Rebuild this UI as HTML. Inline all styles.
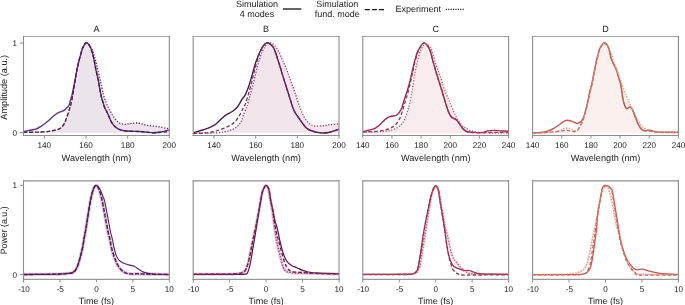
<!DOCTYPE html>
<html><head><meta charset="utf-8"><style>
html,body{margin:0;padding:0;background:#fff;}
body{width:685px;height:305px;overflow:hidden;}
svg{display:block;font-family:"Liberation Sans", sans-serif;will-change:transform;}
svg text{fill:#1a1a1a;text-rendering:geometricPrecision;}
</style></head><body>
<svg width="685" height="305" viewBox="0 0 685 305">
<clipPath id="cAt"><rect x="23.5" y="36.5" width="145.9" height="98.9"/></clipPath>
<clipPath id="cBt"><rect x="193.2" y="36.5" width="145.8" height="98.9"/></clipPath>
<clipPath id="cCt"><rect x="362.8" y="36.5" width="145.59999999999997" height="98.9"/></clipPath>
<clipPath id="cDt"><rect x="532.6" y="36.5" width="145.79999999999995" height="98.9"/></clipPath>
<clipPath id="cAb"><rect x="23.5" y="180.6" width="145.9" height="98.70000000000002"/></clipPath>
<clipPath id="cBb"><rect x="193.2" y="180.6" width="145.8" height="98.70000000000002"/></clipPath>
<clipPath id="cCb"><rect x="362.8" y="180.6" width="145.59999999999997" height="98.70000000000002"/></clipPath>
<clipPath id="cDb"><rect x="532.6" y="180.6" width="145.79999999999995" height="98.70000000000002"/></clipPath>
<g clip-path="url(#cAt)" fill="none" stroke-linejoin="round">
<path d="M23.50,132.20C25.42,132.20 31.42,132.27 35.00,132.20C38.58,132.13 42.50,131.98 45.00,131.80C47.50,131.62 48.18,131.38 50.00,131.10C51.82,130.82 54.27,130.52 55.90,130.10C57.53,129.68 58.65,129.33 59.80,128.60C60.95,127.87 61.97,126.68 62.80,125.70C63.63,124.72 64.23,123.85 64.80,122.70C65.37,121.55 65.72,120.12 66.20,118.80C66.68,117.48 67.20,116.28 67.70,114.80C68.20,113.32 68.70,111.53 69.20,109.90C69.70,108.27 70.20,106.98 70.70,105.00C71.20,103.02 71.67,100.83 72.20,98.00C72.73,95.17 73.30,91.58 73.90,88.00C74.50,84.42 75.22,79.92 75.80,76.50C76.38,73.08 76.73,70.63 77.40,67.50C78.07,64.37 78.90,60.98 79.80,57.70C80.70,54.42 81.68,50.30 82.80,47.80C83.92,45.30 85.20,42.92 86.50,42.70C87.80,42.48 89.43,44.78 90.60,46.50C91.77,48.22 92.62,50.50 93.50,53.00C94.38,55.50 95.18,58.70 95.90,61.50C96.62,64.30 97.12,66.88 97.80,69.80C98.48,72.72 99.30,75.97 100.00,79.00C100.70,82.03 101.42,85.33 102.00,88.00C102.58,90.67 102.87,92.72 103.50,95.00C104.13,97.28 105.02,99.62 105.80,101.70C106.58,103.78 107.45,105.92 108.20,107.50C108.95,109.08 109.53,109.83 110.30,111.20C111.07,112.57 111.98,114.40 112.80,115.70C113.62,117.00 114.38,118.03 115.20,119.00C116.02,119.97 116.80,120.73 117.70,121.50C118.60,122.27 119.43,123.12 120.60,123.60C121.77,124.08 123.47,124.33 124.70,124.40C125.93,124.47 126.80,124.17 128.00,124.00C129.20,123.83 130.45,123.57 131.90,123.40C133.35,123.23 135.10,122.93 136.70,123.00C138.30,123.07 139.77,123.42 141.50,123.80C143.23,124.18 145.08,124.92 147.10,125.30C149.12,125.68 151.45,125.82 153.60,126.10C155.75,126.38 157.87,126.63 160.00,127.00C162.13,127.37 164.83,128.02 166.40,128.30C167.97,128.58 168.90,128.63 169.40,128.70L169.40,132.8L23.50,132.8Z" fill="#ece4eb" stroke="none"/>
<path d="M23.50,131.60C24.40,131.40 26.85,130.82 28.90,130.40C30.95,129.98 34.00,129.65 35.80,129.10C37.60,128.55 38.23,128.00 39.70,127.10C41.17,126.20 42.97,124.92 44.60,123.70C46.23,122.48 47.95,121.12 49.50,119.80C51.05,118.48 52.50,116.95 53.90,115.80C55.30,114.65 56.58,113.63 57.90,112.90C59.22,112.17 60.65,111.90 61.80,111.40C62.95,110.90 63.90,110.55 64.80,109.90C65.70,109.25 66.47,108.32 67.20,107.50C67.93,106.68 68.67,106.17 69.20,105.00C69.73,103.83 69.95,102.07 70.40,100.50C70.85,98.93 71.32,98.07 71.90,95.60C72.48,93.13 73.25,88.98 73.90,85.70C74.55,82.42 75.22,78.93 75.80,75.90C76.38,72.87 76.73,70.53 77.40,67.50C78.07,64.47 78.90,60.98 79.80,57.70C80.70,54.42 81.68,50.30 82.80,47.80C83.92,45.30 85.20,42.70 86.50,42.70C87.80,42.70 89.42,45.30 90.60,47.80C91.78,50.30 92.72,54.03 93.60,57.70C94.48,61.37 95.13,66.13 95.90,69.80C96.67,73.47 97.55,76.50 98.20,79.70C98.85,82.90 99.28,86.18 99.80,89.00C100.32,91.82 100.80,94.48 101.30,96.60C101.80,98.72 102.25,99.88 102.80,101.70C103.35,103.52 104.03,106.03 104.60,107.50C105.17,108.97 105.58,109.27 106.20,110.50C106.82,111.73 107.55,113.20 108.30,114.90C109.05,116.60 109.75,118.92 110.70,120.70C111.65,122.48 112.77,124.23 114.00,125.60C115.23,126.97 116.60,128.08 118.10,128.90C119.60,129.72 120.83,130.10 123.00,130.50C125.17,130.90 128.42,131.13 131.10,131.30C133.78,131.47 136.70,131.38 139.10,131.50C141.50,131.62 143.22,131.78 145.50,132.00C147.78,132.22 150.52,132.75 152.80,132.80C155.08,132.85 157.20,132.58 159.20,132.30C161.20,132.02 163.10,131.50 164.80,131.10C166.50,130.70 168.63,130.10 169.40,129.90" stroke="#5a3574" stroke-width="1.4"/>
<path d="M23.50,132.20C25.42,132.20 31.42,132.27 35.00,132.20C38.58,132.13 42.50,131.98 45.00,131.80C47.50,131.62 48.18,131.38 50.00,131.10C51.82,130.82 54.27,130.52 55.90,130.10C57.53,129.68 58.65,129.33 59.80,128.60C60.95,127.87 61.97,126.68 62.80,125.70C63.63,124.72 64.23,123.85 64.80,122.70C65.37,121.55 65.72,120.12 66.20,118.80C66.68,117.48 67.20,116.28 67.70,114.80C68.20,113.32 68.70,111.53 69.20,109.90C69.70,108.27 70.20,106.98 70.70,105.00C71.20,103.02 71.67,100.83 72.20,98.00C72.73,95.17 73.30,91.58 73.90,88.00C74.50,84.42 75.22,79.92 75.80,76.50C76.38,73.08 76.73,70.63 77.40,67.50C78.07,64.37 78.90,60.98 79.80,57.70C80.70,54.42 81.68,50.30 82.80,47.80C83.92,45.30 85.20,42.70 86.50,42.70C87.80,42.70 89.42,45.30 90.60,47.80C91.78,50.30 92.72,54.03 93.60,57.70C94.48,61.37 95.13,66.13 95.90,69.80C96.67,73.47 97.55,76.50 98.20,79.70C98.85,82.90 99.28,86.18 99.80,89.00C100.32,91.82 100.80,94.48 101.30,96.60C101.80,98.72 102.25,99.88 102.80,101.70C103.35,103.52 104.03,106.03 104.60,107.50C105.17,108.97 105.58,109.27 106.20,110.50C106.82,111.73 107.55,113.20 108.30,114.90C109.05,116.60 109.75,118.92 110.70,120.70C111.65,122.48 112.77,124.23 114.00,125.60C115.23,126.97 116.60,128.08 118.10,128.90C119.60,129.72 120.83,130.10 123.00,130.50C125.17,130.90 128.42,131.13 131.10,131.30C133.78,131.47 136.70,131.38 139.10,131.50C141.50,131.62 143.22,131.78 145.50,132.00C147.78,132.22 150.52,132.72 152.80,132.80C155.08,132.88 157.20,132.63 159.20,132.50C161.20,132.37 163.10,132.17 164.80,132.00C166.50,131.83 168.63,131.58 169.40,131.50" stroke="#451a50" stroke-width="1.35" stroke-dasharray="3.5 2.2"/>
<path d="M23.50,132.20C25.42,132.20 31.42,132.27 35.00,132.20C38.58,132.13 42.50,131.98 45.00,131.80C47.50,131.62 48.18,131.38 50.00,131.10C51.82,130.82 54.27,130.52 55.90,130.10C57.53,129.68 58.65,129.33 59.80,128.60C60.95,127.87 61.97,126.68 62.80,125.70C63.63,124.72 64.23,123.85 64.80,122.70C65.37,121.55 65.72,120.12 66.20,118.80C66.68,117.48 67.20,116.28 67.70,114.80C68.20,113.32 68.70,111.53 69.20,109.90C69.70,108.27 70.20,106.98 70.70,105.00C71.20,103.02 71.67,100.83 72.20,98.00C72.73,95.17 73.30,91.58 73.90,88.00C74.50,84.42 75.22,79.92 75.80,76.50C76.38,73.08 76.73,70.63 77.40,67.50C78.07,64.37 78.90,60.98 79.80,57.70C80.70,54.42 81.68,50.30 82.80,47.80C83.92,45.30 85.20,42.92 86.50,42.70C87.80,42.48 89.43,44.78 90.60,46.50C91.77,48.22 92.62,50.50 93.50,53.00C94.38,55.50 95.18,58.70 95.90,61.50C96.62,64.30 97.12,66.88 97.80,69.80C98.48,72.72 99.30,75.97 100.00,79.00C100.70,82.03 101.42,85.33 102.00,88.00C102.58,90.67 102.87,92.72 103.50,95.00C104.13,97.28 105.02,99.62 105.80,101.70C106.58,103.78 107.45,105.92 108.20,107.50C108.95,109.08 109.53,109.83 110.30,111.20C111.07,112.57 111.98,114.40 112.80,115.70C113.62,117.00 114.38,118.03 115.20,119.00C116.02,119.97 116.80,120.73 117.70,121.50C118.60,122.27 119.43,123.12 120.60,123.60C121.77,124.08 123.47,124.33 124.70,124.40C125.93,124.47 126.80,124.17 128.00,124.00C129.20,123.83 130.45,123.57 131.90,123.40C133.35,123.23 135.10,122.93 136.70,123.00C138.30,123.07 139.77,123.42 141.50,123.80C143.23,124.18 145.08,124.92 147.10,125.30C149.12,125.68 151.45,125.82 153.60,126.10C155.75,126.38 157.87,126.63 160.00,127.00C162.13,127.37 164.83,128.02 166.40,128.30C167.97,128.58 168.90,128.63 169.40,128.70" stroke="#66214f" stroke-width="1.3" stroke-dasharray="1.2 1.65"/>
</g>
<g clip-path="url(#cBt)" fill="none" stroke-linejoin="round">
<path d="M193.20,133.30C195.17,133.27 200.93,133.20 205.00,133.10C209.07,133.00 213.87,133.03 217.60,132.70C221.33,132.37 224.40,131.92 227.40,131.10C230.40,130.28 233.37,129.30 235.60,127.80C237.83,126.30 239.52,124.15 240.80,122.10C242.08,120.05 242.33,117.97 243.30,115.50C244.27,113.03 245.85,109.20 246.60,107.30C247.35,105.40 247.27,105.95 247.80,104.10C248.33,102.25 249.03,99.05 249.80,96.20C250.57,93.35 251.53,90.28 252.40,87.00C253.27,83.72 254.17,79.92 255.00,76.50C255.83,73.08 256.67,69.32 257.40,66.50C258.13,63.68 258.67,61.90 259.40,59.60C260.13,57.30 260.90,54.83 261.80,52.70C262.70,50.57 263.57,48.43 264.80,46.80C266.03,45.17 267.57,43.13 269.20,42.90C270.83,42.67 272.98,43.92 274.60,45.40C276.22,46.88 277.70,49.60 278.90,51.80C280.10,54.00 280.90,56.57 281.80,58.60C282.70,60.63 283.35,61.80 284.30,64.00C285.25,66.20 286.28,68.58 287.50,71.80C288.72,75.02 290.23,79.47 291.60,83.30C292.97,87.13 294.48,91.25 295.70,94.80C296.92,98.35 297.95,101.90 298.90,104.60C299.85,107.30 300.45,108.78 301.40,111.00C302.35,113.22 303.20,115.75 304.60,117.90C306.00,120.05 308.05,122.53 309.80,123.90C311.55,125.27 312.95,125.78 315.10,126.10C317.25,126.42 320.18,126.05 322.70,125.80C325.22,125.55 327.48,124.92 330.20,124.60C332.92,124.28 337.53,124.02 339.00,123.90L339.00,132.8L193.20,132.8Z" fill="#f2e5eb" stroke="none"/>
<path d="M193.20,132.80C194.80,132.33 200.10,130.87 202.80,130.00C205.50,129.13 207.20,128.60 209.40,127.60C211.60,126.60 213.82,125.65 216.00,124.00C218.18,122.35 220.60,119.35 222.50,117.70C224.40,116.05 225.77,115.13 227.40,114.10C229.03,113.07 230.78,112.50 232.30,111.50C233.82,110.50 235.33,109.33 236.50,108.10C237.67,106.87 238.35,105.62 239.30,104.10C240.25,102.58 241.22,100.53 242.20,99.00C243.18,97.47 244.15,96.90 245.20,94.90C246.25,92.90 247.42,90.07 248.50,87.00C249.58,83.93 250.70,79.92 251.70,76.50C252.70,73.08 253.72,69.15 254.50,66.50C255.28,63.85 255.58,62.90 256.40,60.60C257.22,58.30 258.33,55.07 259.40,52.70C260.47,50.33 261.50,48.07 262.80,46.40C264.10,44.73 265.57,42.70 267.20,42.70C268.83,42.70 271.20,44.73 272.60,46.40C274.00,48.07 274.68,50.33 275.60,52.70C276.52,55.07 277.28,58.05 278.10,60.60C278.92,63.15 279.75,65.58 280.50,68.00C281.25,70.42 281.57,71.73 282.60,75.10C283.63,78.47 285.33,83.83 286.70,88.20C288.07,92.57 289.58,97.58 290.80,101.30C292.02,105.02 292.45,107.42 294.00,110.50C295.55,113.58 298.08,116.93 300.10,119.80C302.12,122.67 304.10,125.83 306.10,127.70C308.10,129.57 309.60,130.13 312.10,131.00C314.60,131.87 318.33,132.65 321.10,132.90C323.87,133.15 326.43,132.87 328.70,132.50C330.97,132.13 332.98,131.25 334.70,130.70C336.42,130.15 338.28,129.45 339.00,129.20" stroke="#521a4a" stroke-width="1.4"/>
<path d="M193.20,133.60C195.90,133.42 205.33,133.02 209.40,132.50C213.47,131.98 214.87,131.32 217.60,130.50C220.33,129.68 223.07,128.90 225.80,127.60C228.53,126.30 231.82,124.58 234.00,122.70C236.18,120.82 237.53,118.42 238.90,116.30C240.27,114.18 241.15,111.97 242.20,110.00C243.25,108.03 244.27,106.80 245.20,104.50C246.13,102.20 246.93,99.12 247.80,96.20C248.67,93.28 249.52,90.28 250.40,87.00C251.28,83.72 252.22,80.00 253.10,76.50C253.98,73.00 254.95,68.83 255.70,66.00C256.45,63.17 256.85,61.75 257.60,59.50C258.35,57.25 259.27,54.68 260.20,52.50C261.13,50.32 262.03,48.03 263.20,46.40C264.37,44.77 265.63,42.70 267.20,42.70C268.77,42.70 271.20,44.73 272.60,46.40C274.00,48.07 274.68,50.33 275.60,52.70C276.52,55.07 277.28,58.05 278.10,60.60C278.92,63.15 279.75,65.58 280.50,68.00C281.25,70.42 281.57,71.73 282.60,75.10C283.63,78.47 285.33,83.83 286.70,88.20C288.07,92.57 289.58,97.58 290.80,101.30C292.02,105.02 292.45,107.42 294.00,110.50C295.55,113.58 298.08,116.93 300.10,119.80C302.12,122.67 304.10,125.83 306.10,127.70C308.10,129.57 309.60,130.13 312.10,131.00C314.60,131.87 318.33,132.65 321.10,132.90C323.87,133.15 326.43,132.87 328.70,132.50C330.97,132.13 332.98,131.25 334.70,130.70C336.42,130.15 338.28,129.45 339.00,129.20" stroke="#75285e" stroke-width="1.25" stroke-dasharray="3.5 2.2"/>
<path d="M193.20,133.30C195.17,133.27 200.93,133.20 205.00,133.10C209.07,133.00 213.87,133.03 217.60,132.70C221.33,132.37 224.40,131.92 227.40,131.10C230.40,130.28 233.37,129.30 235.60,127.80C237.83,126.30 239.52,124.15 240.80,122.10C242.08,120.05 242.33,117.97 243.30,115.50C244.27,113.03 245.85,109.20 246.60,107.30C247.35,105.40 247.27,105.95 247.80,104.10C248.33,102.25 249.03,99.05 249.80,96.20C250.57,93.35 251.53,90.28 252.40,87.00C253.27,83.72 254.17,79.92 255.00,76.50C255.83,73.08 256.67,69.32 257.40,66.50C258.13,63.68 258.67,61.90 259.40,59.60C260.13,57.30 260.90,54.83 261.80,52.70C262.70,50.57 263.57,48.43 264.80,46.80C266.03,45.17 267.57,43.13 269.20,42.90C270.83,42.67 272.98,43.92 274.60,45.40C276.22,46.88 277.70,49.60 278.90,51.80C280.10,54.00 280.90,56.57 281.80,58.60C282.70,60.63 283.35,61.80 284.30,64.00C285.25,66.20 286.28,68.58 287.50,71.80C288.72,75.02 290.23,79.47 291.60,83.30C292.97,87.13 294.48,91.25 295.70,94.80C296.92,98.35 297.95,101.90 298.90,104.60C299.85,107.30 300.45,108.78 301.40,111.00C302.35,113.22 303.20,115.75 304.60,117.90C306.00,120.05 308.05,122.53 309.80,123.90C311.55,125.27 312.95,125.78 315.10,126.10C317.25,126.42 320.18,126.05 322.70,125.80C325.22,125.55 327.48,124.92 330.20,124.60C332.92,124.28 337.53,124.02 339.00,123.90" stroke="#98306a" stroke-width="1.3" stroke-dasharray="1.2 1.65"/>
</g>
<g clip-path="url(#cCt)" fill="none" stroke-linejoin="round">
<path d="M362.80,132.30C364.83,132.25 371.03,132.20 375.00,132.00C378.97,131.80 383.30,131.60 386.60,131.10C389.90,130.60 392.35,130.10 394.80,129.00C397.25,127.90 399.60,126.25 401.30,124.50C403.00,122.75 403.92,120.92 405.00,118.50C406.08,116.08 406.93,112.83 407.80,110.00C408.67,107.17 409.52,104.50 410.20,101.50C410.88,98.50 411.42,94.72 411.90,92.00C412.38,89.28 412.62,88.25 413.10,85.20C413.58,82.15 414.12,77.53 414.80,73.70C415.48,69.87 416.25,66.02 417.20,62.20C418.15,58.38 419.13,53.85 420.50,50.80C421.87,47.75 423.63,44.18 425.40,43.90C427.17,43.62 429.47,46.05 431.10,49.10C432.73,52.15 433.83,58.10 435.20,62.20C436.57,66.30 438.25,70.73 439.30,73.70C440.35,76.67 440.75,77.65 441.50,80.00C442.25,82.35 442.60,84.53 443.80,87.80C445.00,91.07 447.07,95.67 448.70,99.60C450.33,103.53 452.12,108.12 453.60,111.40C455.08,114.68 456.12,116.83 457.60,119.30C459.08,121.77 461.25,124.78 462.50,126.20C463.75,127.62 463.82,127.10 465.10,127.80C466.38,128.50 468.22,129.68 470.20,130.40C472.18,131.12 474.43,131.70 477.00,132.10C479.57,132.50 482.75,132.65 485.60,132.80C488.45,132.95 490.30,132.97 494.10,133.00C497.90,133.03 506.02,133.00 508.40,133.00L508.40,132.9L362.80,132.9Z" fill="#f8ecee" stroke="none"/>
<path d="M362.80,131.60C363.77,131.38 366.55,130.85 368.60,130.30C370.65,129.75 373.20,129.27 375.10,128.30C377.00,127.33 378.35,125.95 380.00,124.50C381.65,123.05 383.50,120.88 385.00,119.60C386.50,118.32 387.65,117.40 389.00,116.80C390.35,116.20 391.73,116.35 393.10,116.00C394.47,115.65 395.83,115.87 397.20,114.70C398.57,113.53 400.22,111.20 401.30,109.00C402.38,106.80 403.00,103.67 403.70,101.50C404.40,99.33 404.87,97.92 405.50,96.00C406.13,94.08 406.83,92.17 407.50,90.00C408.17,87.83 408.83,85.58 409.50,83.00C410.17,80.42 410.62,78.23 411.50,74.50C412.38,70.77 413.72,64.55 414.80,60.60C415.88,56.65 416.50,53.75 418.00,50.80C419.50,47.85 421.88,43.18 423.80,42.90C425.72,42.62 428.00,46.15 429.50,49.10C431.00,52.05 431.70,56.77 432.80,60.60C433.90,64.43 435.15,68.87 436.10,72.10C437.05,75.33 437.88,78.03 438.50,80.00C439.12,81.97 439.08,81.62 439.80,83.90C440.52,86.18 441.82,90.42 442.80,93.70C443.78,96.98 444.72,100.48 445.70,103.60C446.68,106.72 447.70,110.12 448.70,112.40C449.70,114.68 450.55,116.15 451.70,117.30C452.85,118.45 454.47,118.47 455.60,119.30C456.73,120.13 457.35,120.82 458.50,122.30C459.65,123.78 461.18,126.67 462.50,128.20C463.82,129.73 464.68,130.82 466.40,131.50C468.12,132.18 470.32,132.12 472.80,132.30C475.28,132.48 478.75,132.83 481.30,132.60C483.85,132.37 485.97,131.27 488.10,130.90C490.23,130.53 491.97,130.40 494.10,130.40C496.23,130.40 498.52,130.75 500.90,130.90C503.28,131.05 507.15,131.23 508.40,131.30" stroke="#9a2a58" stroke-width="1.4"/>
<path d="M362.80,132.00C365.40,131.85 374.17,131.60 378.40,131.10C382.63,130.60 385.47,129.97 388.20,129.00C390.93,128.03 392.88,127.00 394.80,125.30C396.72,123.60 398.33,121.52 399.70,118.80C401.07,116.08 402.05,111.97 403.00,109.00C403.95,106.03 404.65,103.50 405.40,101.00C406.15,98.50 406.68,97.00 407.50,94.00C408.32,91.00 409.47,86.50 410.30,83.00C411.13,79.50 411.68,76.67 412.50,73.00C413.32,69.33 414.20,64.67 415.20,61.00C416.20,57.33 417.07,54.00 418.50,51.00C419.93,48.00 421.97,43.32 423.80,43.00C425.63,42.68 428.00,46.17 429.50,49.10C431.00,52.03 431.70,56.77 432.80,60.60C433.90,64.43 435.15,68.87 436.10,72.10C437.05,75.33 437.88,78.03 438.50,80.00C439.12,81.97 439.08,81.62 439.80,83.90C440.52,86.18 441.82,90.42 442.80,93.70C443.78,96.98 444.72,100.48 445.70,103.60C446.68,106.72 447.70,110.12 448.70,112.40C449.70,114.68 450.55,116.15 451.70,117.30C452.85,118.45 454.47,118.47 455.60,119.30C456.73,120.13 457.35,120.82 458.50,122.30C459.65,123.78 461.18,126.67 462.50,128.20C463.82,129.73 464.68,130.78 466.40,131.50C468.12,132.22 470.32,132.28 472.80,132.50C475.28,132.72 478.43,132.80 481.30,132.80C484.17,132.80 486.88,132.58 490.00,132.50C493.12,132.42 496.93,132.33 500.00,132.30C503.07,132.27 507.00,132.30 508.40,132.30" stroke="#9e3050" stroke-width="1.35" stroke-dasharray="3.5 2.2"/>
<path d="M362.80,132.30C364.83,132.25 371.03,132.20 375.00,132.00C378.97,131.80 383.30,131.60 386.60,131.10C389.90,130.60 392.35,130.10 394.80,129.00C397.25,127.90 399.60,126.25 401.30,124.50C403.00,122.75 403.92,120.92 405.00,118.50C406.08,116.08 406.93,112.83 407.80,110.00C408.67,107.17 409.52,104.50 410.20,101.50C410.88,98.50 411.42,94.72 411.90,92.00C412.38,89.28 412.62,88.25 413.10,85.20C413.58,82.15 414.12,77.53 414.80,73.70C415.48,69.87 416.25,66.02 417.20,62.20C418.15,58.38 419.13,53.85 420.50,50.80C421.87,47.75 423.63,44.18 425.40,43.90C427.17,43.62 429.47,46.05 431.10,49.10C432.73,52.15 433.83,58.10 435.20,62.20C436.57,66.30 438.25,70.73 439.30,73.70C440.35,76.67 440.75,77.65 441.50,80.00C442.25,82.35 442.60,84.53 443.80,87.80C445.00,91.07 447.07,95.67 448.70,99.60C450.33,103.53 452.12,108.12 453.60,111.40C455.08,114.68 456.12,116.83 457.60,119.30C459.08,121.77 461.25,124.78 462.50,126.20C463.75,127.62 463.82,127.10 465.10,127.80C466.38,128.50 468.22,129.68 470.20,130.40C472.18,131.12 474.43,131.70 477.00,132.10C479.57,132.50 482.75,132.65 485.60,132.80C488.45,132.95 490.30,132.97 494.10,133.00C497.90,133.03 506.02,133.00 508.40,133.00" stroke="#b8505f" stroke-width="1.3" stroke-dasharray="1.2 1.65"/>
</g>
<g clip-path="url(#cDt)" fill="none" stroke-linejoin="round">
<path d="M532.60,133.00C535.50,132.93 546.10,132.85 550.00,132.60C553.90,132.35 554.18,131.92 556.00,131.50C557.82,131.08 559.43,130.65 560.90,130.10C562.37,129.55 563.50,128.52 564.80,128.20C566.10,127.88 567.38,127.98 568.70,128.20C570.02,128.42 571.48,129.07 572.70,129.50C573.92,129.93 575.03,130.80 576.00,130.80C576.97,130.80 577.75,130.30 578.50,129.50C579.25,128.70 579.75,127.58 580.50,126.00C581.25,124.42 582.17,122.33 583.00,120.00C583.83,117.67 584.67,115.00 585.50,112.00C586.33,109.00 587.18,105.50 588.00,102.00C588.82,98.50 589.73,93.83 590.40,91.00C591.07,88.17 591.47,87.50 592.00,85.00C592.53,82.50 593.02,79.03 593.60,76.00C594.18,72.97 594.85,69.85 595.50,66.80C596.15,63.75 596.72,60.75 597.50,57.70C598.28,54.65 599.05,50.92 600.20,48.50C601.35,46.08 602.82,42.98 604.40,43.20C605.98,43.42 608.38,47.62 609.70,49.80C611.02,51.98 611.55,54.12 612.30,56.30C613.05,58.48 613.45,60.62 614.20,62.90C614.95,65.18 615.95,67.65 616.80,70.00C617.65,72.35 618.52,74.92 619.30,77.00C620.08,79.08 620.80,80.58 621.50,82.50C622.20,84.42 622.75,86.42 623.50,88.50C624.25,90.58 625.17,92.92 626.00,95.00C626.83,97.08 627.67,99.08 628.50,101.00C629.33,102.92 630.22,104.87 631.00,106.50C631.78,108.13 632.50,109.38 633.20,110.80C633.90,112.22 634.55,113.67 635.20,115.00C635.85,116.33 636.43,117.58 637.10,118.80C637.77,120.02 638.52,121.22 639.20,122.30C639.88,123.38 640.48,124.42 641.20,125.30C641.92,126.18 642.68,126.95 643.50,127.60C644.32,128.25 644.83,128.62 646.10,129.20C647.37,129.78 648.63,130.60 651.10,131.10C653.57,131.60 656.35,131.95 660.90,132.20C665.45,132.45 675.48,132.53 678.40,132.60L678.40,132.9L532.60,132.9Z" fill="#faf1ef" stroke="none"/>
<path d="M532.60,132.70C533.82,132.67 537.60,132.72 539.90,132.50C542.20,132.28 544.43,131.90 546.40,131.40C548.37,130.90 549.73,130.48 551.70,129.50C553.67,128.52 556.23,126.82 558.20,125.50C560.17,124.18 561.97,122.47 563.50,121.60C565.03,120.73 566.08,120.37 567.40,120.30C568.72,120.23 569.87,120.70 571.40,121.20C572.93,121.70 575.25,123.08 576.60,123.30C577.95,123.52 578.65,122.88 579.50,122.50C580.35,122.12 580.88,122.27 581.70,121.00C582.52,119.73 583.48,117.75 584.40,114.90C585.32,112.05 586.27,107.88 587.20,103.90C588.13,99.92 589.27,94.15 590.00,91.00C590.73,87.85 591.05,87.50 591.60,85.00C592.15,82.50 592.70,79.03 593.30,76.00C593.90,72.97 594.55,69.85 595.20,66.80C595.85,63.75 596.43,60.75 597.20,57.70C597.97,54.65 598.63,50.95 599.80,48.50C600.97,46.05 602.78,43.22 604.20,43.00C605.62,42.78 607.17,44.75 608.30,47.20C609.43,49.65 610.12,54.87 611.00,57.70C611.88,60.53 612.73,62.23 613.60,64.20C614.47,66.17 615.43,67.53 616.20,69.50C616.97,71.47 617.65,74.25 618.20,76.00C618.75,77.75 619.05,78.42 619.50,80.00C619.95,81.58 620.42,82.87 620.90,85.50C621.38,88.13 621.88,92.80 622.40,95.80C622.92,98.80 623.32,101.37 624.00,103.50C624.68,105.63 625.53,108.02 626.50,108.60C627.47,109.18 628.85,106.93 629.80,107.00C630.75,107.07 631.38,107.58 632.20,109.00C633.02,110.42 633.73,113.05 634.70,115.50C635.67,117.95 636.92,121.45 638.00,123.70C639.08,125.95 640.12,127.85 641.20,129.00C642.28,130.15 643.13,130.38 644.50,130.60C645.87,130.82 647.48,130.13 649.40,130.30C651.32,130.47 653.53,131.28 656.00,131.60C658.47,131.92 660.47,132.10 664.20,132.20C667.93,132.30 676.03,132.20 678.40,132.20" stroke="#c05750" stroke-width="1.4"/>
<path d="M532.60,133.00C534.67,132.93 541.17,132.82 545.00,132.60C548.83,132.38 552.73,132.00 555.60,131.70C558.47,131.40 560.23,131.02 562.20,130.80C564.17,130.58 565.87,130.33 567.40,130.40C568.93,130.47 570.08,131.03 571.40,131.20C572.72,131.37 574.22,131.68 575.30,131.40C576.38,131.12 577.15,130.32 577.90,129.50C578.65,128.68 579.02,127.92 579.80,126.50C580.58,125.08 581.67,123.33 582.60,121.00C583.53,118.67 584.53,115.67 585.40,112.50C586.27,109.33 587.00,105.58 587.80,102.00C588.60,98.42 589.53,93.83 590.20,91.00C590.87,88.17 591.25,87.50 591.80,85.00C592.35,82.50 592.90,79.03 593.50,76.00C594.10,72.97 594.75,69.85 595.40,66.80C596.05,63.75 596.63,60.75 597.40,57.70C598.17,54.65 598.87,50.95 600.00,48.50C601.13,46.05 602.82,43.22 604.20,43.00C605.58,42.78 607.17,44.75 608.30,47.20C609.43,49.65 610.12,54.87 611.00,57.70C611.88,60.53 612.73,62.23 613.60,64.20C614.47,66.17 615.43,67.53 616.20,69.50C616.97,71.47 617.65,74.25 618.20,76.00C618.75,77.75 619.05,78.42 619.50,80.00C619.95,81.58 620.42,82.87 620.90,85.50C621.38,88.13 621.88,92.80 622.40,95.80C622.92,98.80 623.32,101.37 624.00,103.50C624.68,105.63 625.53,108.02 626.50,108.60C627.47,109.18 628.85,106.93 629.80,107.00C630.75,107.07 631.38,107.58 632.20,109.00C633.02,110.42 633.73,113.05 634.70,115.50C635.67,117.95 636.92,121.45 638.00,123.70C639.08,125.95 640.12,127.82 641.20,129.00C642.28,130.18 643.13,130.47 644.50,130.80C645.87,131.13 647.48,130.80 649.40,131.00C651.32,131.20 653.53,131.75 656.00,132.00C658.47,132.25 660.47,132.42 664.20,132.50C667.93,132.58 676.03,132.50 678.40,132.50" stroke="#c66656" stroke-width="1.35" stroke-dasharray="3.5 2.2"/>
<path d="M532.60,133.00C535.50,132.93 546.10,132.85 550.00,132.60C553.90,132.35 554.18,131.92 556.00,131.50C557.82,131.08 559.43,130.65 560.90,130.10C562.37,129.55 563.50,128.52 564.80,128.20C566.10,127.88 567.38,127.98 568.70,128.20C570.02,128.42 571.48,129.07 572.70,129.50C573.92,129.93 575.03,130.80 576.00,130.80C576.97,130.80 577.75,130.30 578.50,129.50C579.25,128.70 579.75,127.58 580.50,126.00C581.25,124.42 582.17,122.33 583.00,120.00C583.83,117.67 584.67,115.00 585.50,112.00C586.33,109.00 587.18,105.50 588.00,102.00C588.82,98.50 589.73,93.83 590.40,91.00C591.07,88.17 591.47,87.50 592.00,85.00C592.53,82.50 593.02,79.03 593.60,76.00C594.18,72.97 594.85,69.85 595.50,66.80C596.15,63.75 596.72,60.75 597.50,57.70C598.28,54.65 599.05,50.92 600.20,48.50C601.35,46.08 602.82,42.98 604.40,43.20C605.98,43.42 608.38,47.62 609.70,49.80C611.02,51.98 611.55,54.12 612.30,56.30C613.05,58.48 613.45,60.62 614.20,62.90C614.95,65.18 615.95,67.65 616.80,70.00C617.65,72.35 618.52,74.92 619.30,77.00C620.08,79.08 620.80,80.58 621.50,82.50C622.20,84.42 622.75,86.42 623.50,88.50C624.25,90.58 625.17,92.92 626.00,95.00C626.83,97.08 627.67,99.08 628.50,101.00C629.33,102.92 630.22,104.87 631.00,106.50C631.78,108.13 632.50,109.38 633.20,110.80C633.90,112.22 634.55,113.67 635.20,115.00C635.85,116.33 636.43,117.58 637.10,118.80C637.77,120.02 638.52,121.22 639.20,122.30C639.88,123.38 640.48,124.42 641.20,125.30C641.92,126.18 642.68,126.95 643.50,127.60C644.32,128.25 644.83,128.62 646.10,129.20C647.37,129.78 648.63,130.60 651.10,131.10C653.57,131.60 656.35,131.95 660.90,132.20C665.45,132.45 675.48,132.53 678.40,132.60" stroke="#d39581" stroke-width="1.3" stroke-dasharray="1.2 1.65"/>
</g>
<g clip-path="url(#cAb)" fill="none" stroke-linejoin="round">
<path d="M23.50,274.50C26.25,274.48 34.75,274.45 40.00,274.40C45.25,274.35 51.33,274.28 55.00,274.20C58.67,274.12 60.00,274.02 62.00,273.90C64.00,273.78 65.42,273.65 67.00,273.50C68.58,273.35 70.20,273.42 71.50,273.00C72.80,272.58 73.83,272.05 74.80,271.00C75.77,269.95 76.57,268.37 77.30,266.70C78.03,265.03 78.62,262.95 79.20,261.00C79.78,259.05 80.23,257.22 80.80,255.00C81.37,252.78 82.03,250.53 82.60,247.70C83.17,244.87 83.68,240.95 84.20,238.00C84.72,235.05 85.18,233.00 85.70,230.00C86.22,227.00 86.73,223.58 87.30,220.00C87.87,216.42 88.63,211.40 89.10,208.50C89.57,205.60 89.77,204.40 90.10,202.60C90.43,200.80 90.73,199.33 91.10,197.70C91.47,196.07 91.85,194.43 92.30,192.80C92.75,191.17 93.13,189.13 93.80,187.90C94.47,186.67 95.43,185.13 96.30,185.40C97.17,185.67 98.28,187.93 99.00,189.50C99.72,191.07 100.12,193.05 100.60,194.80C101.08,196.55 101.35,197.38 101.90,200.00C102.45,202.62 103.25,207.00 103.90,210.50C104.55,214.00 105.15,217.50 105.80,221.00C106.45,224.50 107.13,228.43 107.80,231.50C108.47,234.57 109.22,236.73 109.80,239.40C110.38,242.07 110.65,244.70 111.30,247.50C111.95,250.30 112.78,253.50 113.70,256.20C114.62,258.90 115.65,261.52 116.80,263.70C117.95,265.88 119.25,267.82 120.60,269.30C121.95,270.78 123.35,271.83 124.90,272.60C126.45,273.37 127.82,273.68 129.90,273.90C131.98,274.12 134.88,273.87 137.40,273.90C139.92,273.93 142.07,274.03 145.00,274.10C147.93,274.17 150.93,274.23 155.00,274.30C159.07,274.37 167.00,274.47 169.40,274.50" stroke="#dfc6dc" stroke-width="3.4"/>
<path d="M23.50,274.50C26.25,274.48 34.75,274.45 40.00,274.40C45.25,274.35 51.33,274.28 55.00,274.20C58.67,274.12 60.00,274.02 62.00,273.90C64.00,273.78 65.42,273.65 67.00,273.50C68.58,273.35 70.20,273.42 71.50,273.00C72.80,272.58 73.83,272.05 74.80,271.00C75.77,269.95 76.57,268.37 77.30,266.70C78.03,265.03 78.62,262.95 79.20,261.00C79.78,259.05 80.23,257.22 80.80,255.00C81.37,252.78 82.03,250.53 82.60,247.70C83.17,244.87 83.68,240.95 84.20,238.00C84.72,235.05 85.18,233.00 85.70,230.00C86.22,227.00 86.73,223.58 87.30,220.00C87.87,216.42 88.63,211.40 89.10,208.50C89.57,205.60 89.77,204.40 90.10,202.60C90.43,200.80 90.73,199.33 91.10,197.70C91.47,196.07 91.85,194.43 92.30,192.80C92.75,191.17 93.13,189.13 93.80,187.90C94.47,186.67 95.38,185.38 96.30,185.40C97.22,185.42 98.43,186.78 99.30,188.00C100.17,189.22 100.87,191.20 101.50,192.70C102.13,194.20 102.60,195.70 103.10,197.00C103.60,198.30 103.93,198.25 104.50,200.50C105.07,202.75 105.83,207.08 106.50,210.50C107.17,213.92 107.85,217.50 108.50,221.00C109.15,224.50 109.75,228.43 110.40,231.50C111.05,234.57 111.80,236.73 112.40,239.40C113.00,242.07 113.40,244.92 114.00,247.50C114.60,250.08 115.22,252.83 116.00,254.90C116.78,256.97 117.52,258.55 118.70,259.90C119.88,261.25 121.43,262.17 123.10,263.00C124.77,263.83 126.83,264.37 128.70,264.90C130.57,265.43 132.65,265.47 134.30,266.20C135.95,266.93 137.05,268.32 138.60,269.30C140.15,270.28 141.70,271.38 143.60,272.10C145.50,272.82 147.60,273.23 150.00,273.60C152.40,273.97 154.77,274.15 158.00,274.30C161.23,274.45 167.50,274.47 169.40,274.50" stroke="#55296a" stroke-width="1.15"/>
<path d="M23.50,274.50C26.25,274.48 34.75,274.45 40.00,274.40C45.25,274.35 51.33,274.28 55.00,274.20C58.67,274.12 60.00,274.02 62.00,273.90C64.00,273.78 65.42,273.65 67.00,273.50C68.58,273.35 70.20,273.42 71.50,273.00C72.80,272.58 73.83,272.05 74.80,271.00C75.77,269.95 76.57,268.37 77.30,266.70C78.03,265.03 78.62,262.95 79.20,261.00C79.78,259.05 80.23,257.22 80.80,255.00C81.37,252.78 82.03,250.53 82.60,247.70C83.17,244.87 83.68,240.95 84.20,238.00C84.72,235.05 85.18,233.00 85.70,230.00C86.22,227.00 86.73,223.58 87.30,220.00C87.87,216.42 88.63,211.40 89.10,208.50C89.57,205.60 89.77,204.40 90.10,202.60C90.43,200.80 90.73,199.33 91.10,197.70C91.47,196.07 91.85,194.43 92.30,192.80C92.75,191.17 93.13,189.13 93.80,187.90C94.47,186.67 95.42,185.15 96.30,185.40C97.18,185.65 98.35,187.83 99.10,189.40C99.85,190.97 100.30,193.03 100.80,194.80C101.30,196.57 101.55,197.38 102.10,200.00C102.65,202.62 103.45,207.00 104.10,210.50C104.75,214.00 105.35,217.50 106.00,221.00C106.65,224.50 107.33,228.43 108.00,231.50C108.67,234.57 109.42,236.73 110.00,239.40C110.58,242.07 110.80,244.70 111.50,247.50C112.20,250.30 113.25,253.50 114.20,256.20C115.15,258.90 116.10,261.52 117.20,263.70C118.30,265.88 119.52,267.82 120.80,269.30C122.08,270.78 123.38,271.83 124.90,272.60C126.42,273.37 127.82,273.72 129.90,273.90C131.98,274.08 134.88,273.67 137.40,273.70C139.92,273.73 142.07,274.00 145.00,274.10C147.93,274.20 150.93,274.23 155.00,274.30C159.07,274.37 167.00,274.47 169.40,274.50" stroke="#451a50" stroke-width="1.35" stroke-dasharray="3.5 2.2"/>
<path d="M23.50,274.50C26.25,274.48 34.75,274.45 40.00,274.40C45.25,274.35 51.33,274.28 55.00,274.20C58.67,274.12 60.00,274.02 62.00,273.90C64.00,273.78 65.42,273.65 67.00,273.50C68.58,273.35 70.20,273.42 71.50,273.00C72.80,272.58 73.83,272.05 74.80,271.00C75.77,269.95 76.57,268.37 77.30,266.70C78.03,265.03 78.62,262.95 79.20,261.00C79.78,259.05 80.23,257.22 80.80,255.00C81.37,252.78 82.03,250.53 82.60,247.70C83.17,244.87 83.68,240.95 84.20,238.00C84.72,235.05 85.18,233.00 85.70,230.00C86.22,227.00 86.73,223.58 87.30,220.00C87.87,216.42 88.63,211.40 89.10,208.50C89.57,205.60 89.77,204.40 90.10,202.60C90.43,200.80 90.73,199.33 91.10,197.70C91.47,196.07 91.85,194.43 92.30,192.80C92.75,191.17 93.13,189.13 93.80,187.90C94.47,186.67 95.43,185.13 96.30,185.40C97.17,185.67 98.28,187.93 99.00,189.50C99.72,191.07 100.12,193.05 100.60,194.80C101.08,196.55 101.35,197.38 101.90,200.00C102.45,202.62 103.25,207.00 103.90,210.50C104.55,214.00 105.15,217.50 105.80,221.00C106.45,224.50 107.13,228.43 107.80,231.50C108.47,234.57 109.22,236.73 109.80,239.40C110.38,242.07 110.65,244.70 111.30,247.50C111.95,250.30 112.78,253.50 113.70,256.20C114.62,258.90 115.65,261.52 116.80,263.70C117.95,265.88 119.25,267.82 120.60,269.30C121.95,270.78 123.35,271.83 124.90,272.60C126.45,273.37 127.82,273.68 129.90,273.90C131.98,274.12 134.88,273.87 137.40,273.90C139.92,273.93 142.07,274.03 145.00,274.10C147.93,274.17 150.93,274.23 155.00,274.30C159.07,274.37 167.00,274.47 169.40,274.50" stroke="#66214f" stroke-width="1.3" stroke-dasharray="1.2 1.65"/>
</g>
<g clip-path="url(#cBb)" fill="none" stroke-linejoin="round">
<path d="M193.20,274.20C198.50,274.20 218.03,274.25 225.00,274.20C231.97,274.15 232.38,274.08 235.00,273.90C237.62,273.72 239.07,273.58 240.70,273.10C242.33,272.62 243.70,272.23 244.80,271.00C245.90,269.77 246.53,267.95 247.30,265.70C248.07,263.45 248.72,260.50 249.40,257.50C250.08,254.50 250.73,250.98 251.40,247.70C252.07,244.42 252.72,241.08 253.40,237.80C254.08,234.52 254.85,231.08 255.50,228.00C256.15,224.92 256.70,222.38 257.30,219.30C257.90,216.22 258.52,212.77 259.10,209.50C259.68,206.23 260.23,202.70 260.80,199.70C261.37,196.70 261.65,193.87 262.50,191.50C263.35,189.13 264.90,185.93 265.90,185.50C266.90,185.07 267.92,187.48 268.50,188.90C269.08,190.32 269.10,192.20 269.40,194.00C269.70,195.80 269.95,197.70 270.30,199.70C270.65,201.70 271.12,203.95 271.50,206.00C271.88,208.05 272.27,209.67 272.60,212.00C272.93,214.33 273.10,217.00 273.50,220.00C273.90,223.00 274.50,226.67 275.00,230.00C275.50,233.33 275.92,236.77 276.50,240.00C277.08,243.23 277.77,246.25 278.50,249.40C279.23,252.55 280.12,255.93 280.90,258.90C281.68,261.87 282.32,265.13 283.20,267.20C284.08,269.27 284.72,270.37 286.20,271.30C287.68,272.23 289.47,272.50 292.10,272.80C294.73,273.10 298.18,273.00 302.00,273.10C305.82,273.20 308.83,273.25 315.00,273.40C321.17,273.55 335.00,273.90 339.00,274.00" stroke="#e6c3d3" stroke-width="3"/>
<path d="M193.20,274.50C196.83,274.48 208.03,274.42 215.00,274.40C221.97,274.38 230.57,274.40 235.00,274.40C239.43,274.40 239.68,274.48 241.60,274.40C243.52,274.32 245.42,274.40 246.50,273.90C247.58,273.40 247.55,272.77 248.10,271.40C248.65,270.03 249.25,268.02 249.80,265.70C250.35,263.38 250.87,260.50 251.40,257.50C251.93,254.50 252.45,250.98 253.00,247.70C253.55,244.42 254.15,241.08 254.70,237.80C255.25,234.52 255.80,231.08 256.30,228.00C256.80,224.92 257.20,222.38 257.70,219.30C258.20,216.22 258.75,212.77 259.30,209.50C259.85,206.23 260.45,202.70 261.00,199.70C261.55,196.70 261.78,193.87 262.60,191.50C263.42,189.13 264.88,185.93 265.90,185.50C266.92,185.07 268.07,187.52 268.70,188.90C269.33,190.28 269.38,192.00 269.70,193.80C270.02,195.60 270.25,197.73 270.60,199.70C270.95,201.67 271.38,203.63 271.80,205.60C272.22,207.57 272.65,209.27 273.10,211.50C273.55,213.73 273.85,216.33 274.50,219.00C275.15,221.67 276.33,225.00 277.00,227.50C277.67,230.00 278.05,231.92 278.50,234.00C278.95,236.08 279.12,237.43 279.70,240.00C280.28,242.57 281.22,246.65 282.00,249.40C282.78,252.15 283.52,254.43 284.40,256.50C285.28,258.57 286.12,260.32 287.30,261.80C288.48,263.28 289.92,264.42 291.50,265.40C293.08,266.38 295.05,266.92 296.80,267.70C298.55,268.48 300.23,269.42 302.00,270.10C303.77,270.78 304.85,271.28 307.40,271.80C309.95,272.32 312.03,272.87 317.30,273.20C322.57,273.53 335.38,273.70 339.00,273.80" stroke="#521a4a" stroke-width="1.2"/>
<path d="M193.20,274.20C198.50,274.20 218.03,274.25 225.00,274.20C231.97,274.15 232.38,274.08 235.00,273.90C237.62,273.72 239.07,273.58 240.70,273.10C242.33,272.62 243.70,272.23 244.80,271.00C245.90,269.77 246.53,267.95 247.30,265.70C248.07,263.45 248.72,260.50 249.40,257.50C250.08,254.50 250.73,250.98 251.40,247.70C252.07,244.42 252.72,241.08 253.40,237.80C254.08,234.52 254.85,231.08 255.50,228.00C256.15,224.92 256.70,222.38 257.30,219.30C257.90,216.22 258.52,212.77 259.10,209.50C259.68,206.23 260.23,202.70 260.80,199.70C261.37,196.70 261.65,193.87 262.50,191.50C263.35,189.13 264.87,185.93 265.90,185.50C266.93,185.07 268.07,187.52 268.70,188.90C269.33,190.28 269.38,192.00 269.70,193.80C270.02,195.60 270.25,197.73 270.60,199.70C270.95,201.67 271.40,203.63 271.80,205.60C272.20,207.57 272.63,209.27 273.00,211.50C273.37,213.73 273.58,216.25 274.00,219.00C274.42,221.75 275.00,225.33 275.50,228.00C276.00,230.67 276.50,233.00 277.00,235.00C277.50,237.00 277.85,237.60 278.50,240.00C279.15,242.40 280.12,246.45 280.90,249.40C281.68,252.35 282.42,255.13 283.20,257.70C283.98,260.27 284.72,262.83 285.60,264.80C286.48,266.77 287.22,268.32 288.50,269.50C289.78,270.68 291.05,271.40 293.30,271.90C295.55,272.40 298.38,272.25 302.00,272.50C305.62,272.75 308.83,273.15 315.00,273.40C321.17,273.65 335.00,273.90 339.00,274.00" stroke="#5e1c50" stroke-width="1.35" stroke-dasharray="3.5 2.2"/>
<path d="M193.20,274.20C198.50,274.20 218.03,274.25 225.00,274.20C231.97,274.15 232.38,274.08 235.00,273.90C237.62,273.72 239.07,273.58 240.70,273.10C242.33,272.62 243.70,272.23 244.80,271.00C245.90,269.77 246.53,267.95 247.30,265.70C248.07,263.45 248.72,260.50 249.40,257.50C250.08,254.50 250.73,250.98 251.40,247.70C252.07,244.42 252.72,241.08 253.40,237.80C254.08,234.52 254.85,231.08 255.50,228.00C256.15,224.92 256.70,222.38 257.30,219.30C257.90,216.22 258.52,212.77 259.10,209.50C259.68,206.23 260.23,202.70 260.80,199.70C261.37,196.70 261.65,193.87 262.50,191.50C263.35,189.13 264.90,185.93 265.90,185.50C266.90,185.07 267.92,187.48 268.50,188.90C269.08,190.32 269.10,192.20 269.40,194.00C269.70,195.80 269.95,197.70 270.30,199.70C270.65,201.70 271.12,203.95 271.50,206.00C271.88,208.05 272.27,209.67 272.60,212.00C272.93,214.33 273.10,217.00 273.50,220.00C273.90,223.00 274.50,226.67 275.00,230.00C275.50,233.33 275.92,236.77 276.50,240.00C277.08,243.23 277.77,246.25 278.50,249.40C279.23,252.55 280.12,255.93 280.90,258.90C281.68,261.87 282.32,265.13 283.20,267.20C284.08,269.27 284.72,270.37 286.20,271.30C287.68,272.23 289.47,272.50 292.10,272.80C294.73,273.10 298.18,273.00 302.00,273.10C305.82,273.20 308.83,273.25 315.00,273.40C321.17,273.55 335.00,273.90 339.00,274.00" stroke="#98306a" stroke-width="1.3" stroke-dasharray="1.2 1.65"/>
</g>
<g clip-path="url(#cCb)" fill="none" stroke-linejoin="round">
<path d="M362.80,274.40C369.00,274.38 392.47,274.37 400.00,274.30C407.53,274.23 405.80,274.12 408.00,274.00C410.20,273.88 411.65,273.95 413.20,273.60C414.75,273.25 416.20,273.08 417.30,271.90C418.40,270.72 419.12,268.90 419.80,266.50C420.48,264.10 420.87,260.63 421.40,257.50C421.93,254.37 422.45,250.98 423.00,247.70C423.55,244.42 424.20,240.92 424.70,237.80C425.20,234.68 425.50,232.35 426.00,229.00C426.50,225.65 427.08,221.50 427.70,217.70C428.32,213.90 429.07,209.82 429.70,206.20C430.33,202.58 430.95,198.62 431.50,196.00C432.05,193.38 432.28,192.08 433.00,190.50C433.72,188.92 434.83,186.50 435.80,186.50C436.77,186.50 437.92,187.48 438.80,190.50C439.68,193.52 440.30,200.07 441.10,204.60C441.90,209.13 442.92,213.88 443.60,217.70C444.28,221.52 444.75,225.28 445.20,227.50C445.65,229.72 445.83,229.28 446.30,231.00C446.77,232.72 447.37,235.02 448.00,237.80C448.63,240.58 449.43,244.83 450.10,247.70C450.77,250.57 451.35,253.03 452.00,255.00C452.65,256.97 453.25,258.25 454.00,259.50C454.75,260.75 455.32,261.10 456.50,262.50C457.68,263.90 459.67,266.42 461.10,267.90C462.53,269.38 463.00,270.43 465.10,271.40C467.20,272.37 466.48,273.23 473.70,273.70C480.92,274.17 502.62,274.12 508.40,274.20" stroke="#f3dde1" stroke-width="2.4"/>
<path d="M362.80,274.40C367.33,274.40 382.97,274.40 390.00,274.40C397.03,274.40 401.40,274.43 405.00,274.40C408.60,274.37 409.82,274.50 411.60,274.20C413.38,273.90 414.62,273.75 415.70,272.60C416.78,271.45 417.42,269.82 418.10,267.30C418.78,264.78 419.25,260.77 419.80,257.50C420.35,254.23 420.92,250.98 421.40,247.70C421.88,244.42 422.22,241.00 422.70,237.80C423.18,234.60 423.68,231.85 424.30,228.50C424.92,225.15 425.72,221.13 426.40,217.70C427.08,214.27 427.72,211.18 428.40,207.90C429.08,204.62 429.80,200.87 430.50,198.00C431.20,195.13 431.78,192.75 432.60,190.70C433.42,188.65 434.47,185.85 435.40,185.70C436.33,185.55 437.47,187.47 438.20,189.80C438.93,192.13 439.25,196.42 439.80,199.70C440.35,202.98 440.95,206.23 441.50,209.50C442.05,212.77 442.60,216.13 443.10,219.30C443.60,222.47 444.07,225.42 444.50,228.50C444.93,231.58 445.23,234.55 445.70,237.80C446.17,241.05 446.83,245.22 447.30,248.00C447.77,250.78 447.97,252.33 448.50,254.50C449.03,256.67 449.58,259.00 450.50,261.00C451.42,263.00 452.43,265.15 454.00,266.50C455.57,267.85 458.05,268.43 459.90,269.10C461.75,269.77 463.57,270.27 465.10,270.50C466.63,270.73 467.67,270.25 469.10,270.50C470.53,270.75 471.98,271.47 473.70,272.00C475.42,272.53 476.53,273.33 479.40,273.70C482.27,274.07 486.07,274.10 490.90,274.20C495.73,274.30 505.48,274.28 508.40,274.30" stroke="#9a2a58" stroke-width="1.25"/>
<path d="M362.80,274.60C369.83,274.58 396.97,274.57 405.00,274.50C413.03,274.43 409.33,274.45 411.00,274.20C412.67,273.95 413.92,273.87 415.00,273.00C416.08,272.13 416.78,270.83 417.50,269.00C418.22,267.17 418.72,264.83 419.30,262.00C419.88,259.17 420.47,255.33 421.00,252.00C421.53,248.67 422.00,245.33 422.50,242.00C423.00,238.67 423.42,235.67 424.00,232.00C424.58,228.33 425.30,223.83 426.00,220.00C426.70,216.17 427.48,212.50 428.20,209.00C428.92,205.50 429.58,202.00 430.30,199.00C431.02,196.00 431.65,193.22 432.50,191.00C433.35,188.78 434.45,185.90 435.40,185.70C436.35,185.50 437.47,187.47 438.20,189.80C438.93,192.13 439.25,196.42 439.80,199.70C440.35,202.98 440.95,206.23 441.50,209.50C442.05,212.77 442.60,216.13 443.10,219.30C443.60,222.47 444.10,225.72 444.50,228.50C444.90,231.28 445.13,233.42 445.50,236.00C445.87,238.58 446.35,241.78 446.70,244.00C447.05,246.22 447.12,246.80 447.60,249.30C448.08,251.80 449.03,256.55 449.60,259.00C450.17,261.45 450.43,262.22 451.00,264.00C451.57,265.78 451.90,268.08 453.00,269.70C454.10,271.32 456.07,272.82 457.60,273.70C459.13,274.58 459.52,274.78 462.20,275.00C464.88,275.22 466.00,275.03 473.70,275.00C481.40,274.97 502.62,274.83 508.40,274.80" stroke="#9e3050" stroke-width="1.35" stroke-dasharray="3.5 2.2"/>
<path d="M362.80,274.40C369.00,274.38 392.47,274.37 400.00,274.30C407.53,274.23 405.80,274.12 408.00,274.00C410.20,273.88 411.65,273.95 413.20,273.60C414.75,273.25 416.20,273.08 417.30,271.90C418.40,270.72 419.12,268.90 419.80,266.50C420.48,264.10 420.87,260.63 421.40,257.50C421.93,254.37 422.45,250.98 423.00,247.70C423.55,244.42 424.20,240.92 424.70,237.80C425.20,234.68 425.50,232.35 426.00,229.00C426.50,225.65 427.08,221.50 427.70,217.70C428.32,213.90 429.07,209.82 429.70,206.20C430.33,202.58 430.95,198.62 431.50,196.00C432.05,193.38 432.28,192.08 433.00,190.50C433.72,188.92 434.83,186.50 435.80,186.50C436.77,186.50 437.92,187.48 438.80,190.50C439.68,193.52 440.30,200.07 441.10,204.60C441.90,209.13 442.92,213.88 443.60,217.70C444.28,221.52 444.75,225.28 445.20,227.50C445.65,229.72 445.83,229.28 446.30,231.00C446.77,232.72 447.37,235.02 448.00,237.80C448.63,240.58 449.43,244.83 450.10,247.70C450.77,250.57 451.35,253.03 452.00,255.00C452.65,256.97 453.25,258.25 454.00,259.50C454.75,260.75 455.32,261.10 456.50,262.50C457.68,263.90 459.67,266.42 461.10,267.90C462.53,269.38 463.00,270.43 465.10,271.40C467.20,272.37 466.48,273.23 473.70,273.70C480.92,274.17 502.62,274.12 508.40,274.20" stroke="#b8505f" stroke-width="1.3" stroke-dasharray="1.2 1.65"/>
</g>
<g clip-path="url(#cDb)" fill="none" stroke-linejoin="round">
<path d="M532.60,274.60C537.17,274.57 553.22,274.57 560.00,274.40C566.78,274.23 570.00,274.02 573.30,273.60C576.60,273.18 577.88,272.80 579.80,271.90C581.72,271.00 583.43,270.05 584.80,268.20C586.17,266.35 587.05,263.95 588.00,260.80C588.95,257.65 589.73,253.13 590.50,249.30C591.27,245.47 591.92,241.35 592.60,237.80C593.28,234.25 594.12,230.30 594.60,228.00C595.08,225.70 594.98,226.53 595.50,224.00C596.02,221.47 596.87,217.13 597.70,212.80C598.53,208.47 599.70,201.80 600.50,198.00C601.30,194.20 601.68,191.97 602.50,190.00C603.32,188.03 604.48,186.53 605.40,186.20C606.32,185.87 607.18,186.57 608.00,188.00C608.82,189.43 609.50,191.77 610.30,194.80C611.10,197.83 611.98,202.12 612.80,206.20C613.62,210.28 614.52,215.75 615.20,219.30C615.88,222.85 616.23,225.23 616.90,227.50C617.57,229.77 618.42,230.08 619.20,232.90C619.98,235.72 620.88,241.38 621.60,244.40C622.32,247.42 622.88,248.90 623.50,251.00C624.12,253.10 624.55,255.00 625.30,257.00C626.05,259.00 627.05,261.17 628.00,263.00C628.95,264.83 629.92,266.50 631.00,268.00C632.08,269.50 633.35,270.97 634.50,272.00C635.65,273.03 630.58,273.77 637.90,274.20C645.22,274.63 671.65,274.53 678.40,274.60" stroke="#f8e6df" stroke-width="2.4"/>
<path d="M532.60,274.60C537.17,274.60 552.93,274.60 560.00,274.60C567.07,274.60 571.70,274.62 575.00,274.60C578.30,274.58 578.47,274.60 579.80,274.50C581.13,274.40 581.90,274.23 583.00,274.00C584.10,273.77 585.22,274.00 586.40,273.10C587.58,272.20 589.17,270.65 590.10,268.60C591.03,266.55 591.38,264.02 592.00,260.80C592.62,257.58 593.23,253.13 593.80,249.30C594.37,245.47 594.93,241.27 595.40,237.80C595.87,234.33 596.22,232.40 596.60,228.50C596.98,224.60 597.25,218.38 597.70,214.40C598.15,210.42 598.75,207.87 599.30,204.60C599.85,201.33 600.53,197.43 601.00,194.80C601.47,192.17 601.63,190.28 602.10,188.80C602.57,187.32 603.18,186.45 603.80,185.90C604.42,185.35 604.98,185.43 605.80,185.50C606.62,185.57 607.67,185.58 608.70,186.30C609.73,187.02 611.18,187.85 612.00,189.80C612.82,191.75 613.07,194.98 613.60,198.00C614.13,201.02 614.65,204.62 615.20,207.90C615.75,211.18 616.37,214.35 616.90,217.70C617.43,221.05 617.88,224.65 618.40,228.00C618.92,231.35 619.48,235.13 620.00,237.80C620.52,240.47 621.00,242.05 621.50,244.00C622.00,245.95 622.33,247.42 623.00,249.50C623.67,251.58 624.67,254.50 625.50,256.50C626.33,258.50 626.88,259.78 628.00,261.50C629.12,263.22 630.83,265.43 632.20,266.80C633.57,268.17 634.48,269.32 636.20,269.70C637.92,270.08 640.48,268.92 642.50,269.10C644.52,269.28 646.20,270.23 648.30,270.80C650.40,271.37 652.62,272.02 655.10,272.50C657.58,272.98 659.32,273.38 663.20,273.70C667.08,274.02 675.87,274.28 678.40,274.40" stroke="#c05750" stroke-width="1.25"/>
<path d="M532.60,274.80C539.67,274.80 567.10,274.83 575.00,274.80C582.90,274.77 578.58,274.73 580.00,274.60C581.42,274.47 582.43,274.35 583.50,274.00C584.57,273.65 585.48,273.50 586.40,272.50C587.32,271.50 588.27,269.92 589.00,268.00C589.73,266.08 590.22,264.00 590.80,261.00C591.38,258.00 591.97,253.50 592.50,250.00C593.03,246.50 593.50,243.33 594.00,240.00C594.50,236.67 594.97,233.83 595.50,230.00C596.03,226.17 596.62,221.00 597.20,217.00C597.78,213.00 598.40,209.50 599.00,206.00C599.60,202.50 600.22,198.83 600.80,196.00C601.38,193.17 601.72,190.72 602.50,189.00C603.28,187.28 604.47,186.12 605.50,185.70C606.53,185.28 607.70,185.78 608.70,186.50C609.70,187.22 610.75,188.08 611.50,190.00C612.25,191.92 612.65,195.02 613.20,198.00C613.75,200.98 614.27,204.62 614.80,207.90C615.33,211.18 615.90,214.52 616.40,217.70C616.90,220.88 617.33,223.95 617.80,227.00C618.27,230.05 618.67,233.17 619.20,236.00C619.73,238.83 620.37,241.55 621.00,244.00C621.63,246.45 622.08,247.85 623.00,250.70C623.92,253.55 625.15,258.13 626.50,261.10C627.85,264.07 629.58,266.50 631.10,268.50C632.62,270.50 634.08,272.02 635.60,273.10C637.12,274.18 633.07,274.68 640.20,275.00C647.33,275.32 672.03,275.00 678.40,275.00" stroke="#c66656" stroke-width="1.35" stroke-dasharray="3.5 2.2"/>
<path d="M532.60,274.60C537.17,274.57 553.22,274.57 560.00,274.40C566.78,274.23 570.00,274.02 573.30,273.60C576.60,273.18 577.88,272.80 579.80,271.90C581.72,271.00 583.43,270.05 584.80,268.20C586.17,266.35 587.05,263.95 588.00,260.80C588.95,257.65 589.73,253.13 590.50,249.30C591.27,245.47 591.92,241.35 592.60,237.80C593.28,234.25 594.12,230.30 594.60,228.00C595.08,225.70 594.98,226.53 595.50,224.00C596.02,221.47 596.87,217.13 597.70,212.80C598.53,208.47 599.70,201.80 600.50,198.00C601.30,194.20 601.68,191.97 602.50,190.00C603.32,188.03 604.48,186.53 605.40,186.20C606.32,185.87 607.18,186.57 608.00,188.00C608.82,189.43 609.50,191.77 610.30,194.80C611.10,197.83 611.98,202.12 612.80,206.20C613.62,210.28 614.52,215.75 615.20,219.30C615.88,222.85 616.23,225.23 616.90,227.50C617.57,229.77 618.42,230.08 619.20,232.90C619.98,235.72 620.88,241.38 621.60,244.40C622.32,247.42 622.88,248.90 623.50,251.00C624.12,253.10 624.55,255.00 625.30,257.00C626.05,259.00 627.05,261.17 628.00,263.00C628.95,264.83 629.92,266.50 631.00,268.00C632.08,269.50 633.35,270.97 634.50,272.00C635.65,273.03 630.58,273.77 637.90,274.20C645.22,274.63 671.65,274.53 678.40,274.60" stroke="#d39581" stroke-width="1.3" stroke-dasharray="1.2 1.65"/>
</g>
<line x1="22.95" y1="36.5" x2="169.85" y2="36.5" stroke="#a5a5a5" stroke-width="1.0"/>
<line x1="22.95" y1="135.45" x2="169.85" y2="135.45" stroke="#8f8f8f" stroke-width="1.05"/>
<line x1="23.5" y1="36.0" x2="23.5" y2="136.0" stroke="#8c8c8c" stroke-width="1.1"/>
<line x1="169.30" y1="36.0" x2="169.30" y2="136.0" stroke="#8c8c8c" stroke-width="1.1"/>
<line x1="192.65" y1="36.5" x2="339.55" y2="36.5" stroke="#a5a5a5" stroke-width="1.0"/>
<line x1="192.65" y1="135.45" x2="339.55" y2="135.45" stroke="#8f8f8f" stroke-width="1.05"/>
<line x1="193.2" y1="36.0" x2="193.2" y2="136.0" stroke="#8c8c8c" stroke-width="1.1"/>
<line x1="339.00" y1="36.0" x2="339.00" y2="136.0" stroke="#8c8c8c" stroke-width="1.1"/>
<line x1="362.25" y1="36.5" x2="509.15" y2="36.5" stroke="#a5a5a5" stroke-width="1.0"/>
<line x1="362.25" y1="135.45" x2="509.15" y2="135.45" stroke="#8f8f8f" stroke-width="1.05"/>
<line x1="362.8" y1="36.0" x2="362.8" y2="136.0" stroke="#8c8c8c" stroke-width="1.1"/>
<line x1="508.60" y1="36.0" x2="508.60" y2="136.0" stroke="#8c8c8c" stroke-width="1.1"/>
<line x1="532.05" y1="36.5" x2="678.95" y2="36.5" stroke="#a5a5a5" stroke-width="1.0"/>
<line x1="532.05" y1="135.45" x2="678.95" y2="135.45" stroke="#8f8f8f" stroke-width="1.05"/>
<line x1="532.6" y1="36.0" x2="532.6" y2="136.0" stroke="#8c8c8c" stroke-width="1.1"/>
<line x1="678.40" y1="36.0" x2="678.40" y2="136.0" stroke="#8c8c8c" stroke-width="1.1"/>
<line x1="22.95" y1="180.9" x2="169.85" y2="180.9" stroke="#8f8f8f" stroke-width="1.3"/>
<line x1="22.95" y1="279.45" x2="169.85" y2="279.45" stroke="#999999" stroke-width="1.2"/>
<line x1="23.5" y1="180.25" x2="23.5" y2="280.05" stroke="#8c8c8c" stroke-width="1.1"/>
<line x1="169.30" y1="180.25" x2="169.30" y2="280.05" stroke="#8c8c8c" stroke-width="1.1"/>
<line x1="192.65" y1="180.9" x2="339.55" y2="180.9" stroke="#8f8f8f" stroke-width="1.3"/>
<line x1="192.65" y1="279.45" x2="339.55" y2="279.45" stroke="#999999" stroke-width="1.2"/>
<line x1="193.2" y1="180.25" x2="193.2" y2="280.05" stroke="#8c8c8c" stroke-width="1.1"/>
<line x1="339.00" y1="180.25" x2="339.00" y2="280.05" stroke="#8c8c8c" stroke-width="1.1"/>
<line x1="362.25" y1="180.9" x2="509.15" y2="180.9" stroke="#8f8f8f" stroke-width="1.3"/>
<line x1="362.25" y1="279.45" x2="509.15" y2="279.45" stroke="#999999" stroke-width="1.2"/>
<line x1="362.8" y1="180.25" x2="362.8" y2="280.05" stroke="#8c8c8c" stroke-width="1.1"/>
<line x1="508.60" y1="180.25" x2="508.60" y2="280.05" stroke="#8c8c8c" stroke-width="1.1"/>
<line x1="532.05" y1="180.9" x2="678.95" y2="180.9" stroke="#8f8f8f" stroke-width="1.3"/>
<line x1="532.05" y1="279.45" x2="678.95" y2="279.45" stroke="#999999" stroke-width="1.2"/>
<line x1="532.6" y1="180.25" x2="532.6" y2="280.05" stroke="#8c8c8c" stroke-width="1.1"/>
<line x1="678.40" y1="180.25" x2="678.40" y2="280.05" stroke="#8c8c8c" stroke-width="1.1"/>
<line x1="44.33" y1="135.4" x2="44.33" y2="138.6" stroke="#8f8f8f" stroke-width="1"/>
<text transform="translate(44.33,148.4) scale(0.97,1)" font-size="8.4" text-anchor="middle">140</text>
<line x1="85.99" y1="135.4" x2="85.99" y2="138.6" stroke="#8f8f8f" stroke-width="1"/>
<text transform="translate(85.99,148.4) scale(0.97,1)" font-size="8.4" text-anchor="middle">160</text>
<line x1="127.64" y1="135.4" x2="127.64" y2="138.6" stroke="#8f8f8f" stroke-width="1"/>
<text transform="translate(127.64,148.4) scale(0.97,1)" font-size="8.4" text-anchor="middle">180</text>
<line x1="169.30" y1="135.4" x2="169.30" y2="138.6" stroke="#8f8f8f" stroke-width="1"/>
<text transform="translate(169.30,148.4) scale(0.97,1)" font-size="8.4" text-anchor="middle">200</text>
<text x="96.40" y="160.8" font-size="9.2" text-anchor="middle">Wavelength (nm)</text>
<line x1="214.03" y1="135.4" x2="214.03" y2="138.6" stroke="#8f8f8f" stroke-width="1"/>
<text transform="translate(214.03,148.4) scale(0.97,1)" font-size="8.4" text-anchor="middle">140</text>
<line x1="255.69" y1="135.4" x2="255.69" y2="138.6" stroke="#8f8f8f" stroke-width="1"/>
<text transform="translate(255.69,148.4) scale(0.97,1)" font-size="8.4" text-anchor="middle">160</text>
<line x1="297.34" y1="135.4" x2="297.34" y2="138.6" stroke="#8f8f8f" stroke-width="1"/>
<text transform="translate(297.34,148.4) scale(0.97,1)" font-size="8.4" text-anchor="middle">180</text>
<line x1="339.00" y1="135.4" x2="339.00" y2="138.6" stroke="#8f8f8f" stroke-width="1"/>
<text transform="translate(339.00,148.4) scale(0.97,1)" font-size="8.4" text-anchor="middle">200</text>
<text x="266.10" y="160.8" font-size="9.2" text-anchor="middle">Wavelength (nm)</text>
<line x1="362.80" y1="135.4" x2="362.80" y2="138.6" stroke="#8f8f8f" stroke-width="1"/>
<text transform="translate(362.80,148.4) scale(0.97,1)" font-size="8.4" text-anchor="middle">140</text>
<line x1="391.96" y1="135.4" x2="391.96" y2="138.6" stroke="#8f8f8f" stroke-width="1"/>
<text transform="translate(391.96,148.4) scale(0.97,1)" font-size="8.4" text-anchor="middle">160</text>
<line x1="421.12" y1="135.4" x2="421.12" y2="138.6" stroke="#8f8f8f" stroke-width="1"/>
<text transform="translate(421.12,148.4) scale(0.97,1)" font-size="8.4" text-anchor="middle">180</text>
<line x1="450.28" y1="135.4" x2="450.28" y2="138.6" stroke="#8f8f8f" stroke-width="1"/>
<text transform="translate(450.28,148.4) scale(0.97,1)" font-size="8.4" text-anchor="middle">200</text>
<line x1="479.44" y1="135.4" x2="479.44" y2="138.6" stroke="#8f8f8f" stroke-width="1"/>
<text transform="translate(479.44,148.4) scale(0.97,1)" font-size="8.4" text-anchor="middle">220</text>
<line x1="508.60" y1="135.4" x2="508.60" y2="138.6" stroke="#8f8f8f" stroke-width="1"/>
<text transform="translate(508.60,148.4) scale(0.97,1)" font-size="8.4" text-anchor="middle">240</text>
<text x="435.70" y="160.8" font-size="9.2" text-anchor="middle">Wavelength (nm)</text>
<line x1="532.60" y1="135.4" x2="532.60" y2="138.6" stroke="#8f8f8f" stroke-width="1"/>
<text transform="translate(532.60,148.4) scale(0.97,1)" font-size="8.4" text-anchor="middle">140</text>
<line x1="561.76" y1="135.4" x2="561.76" y2="138.6" stroke="#8f8f8f" stroke-width="1"/>
<text transform="translate(561.76,148.4) scale(0.97,1)" font-size="8.4" text-anchor="middle">160</text>
<line x1="590.92" y1="135.4" x2="590.92" y2="138.6" stroke="#8f8f8f" stroke-width="1"/>
<text transform="translate(590.92,148.4) scale(0.97,1)" font-size="8.4" text-anchor="middle">180</text>
<line x1="620.08" y1="135.4" x2="620.08" y2="138.6" stroke="#8f8f8f" stroke-width="1"/>
<text transform="translate(620.08,148.4) scale(0.97,1)" font-size="8.4" text-anchor="middle">200</text>
<line x1="649.24" y1="135.4" x2="649.24" y2="138.6" stroke="#8f8f8f" stroke-width="1"/>
<text transform="translate(649.24,148.4) scale(0.97,1)" font-size="8.4" text-anchor="middle">220</text>
<line x1="678.40" y1="135.4" x2="678.40" y2="138.6" stroke="#8f8f8f" stroke-width="1"/>
<text transform="translate(678.40,148.4) scale(0.97,1)" font-size="8.4" text-anchor="middle">240</text>
<text x="605.50" y="160.8" font-size="9.2" text-anchor="middle">Wavelength (nm)</text>
<line x1="23.50" y1="279.3" x2="23.50" y2="282.5" stroke="#8f8f8f" stroke-width="1"/>
<text transform="translate(23.80,292.2) scale(0.97,1)" font-size="8.4" text-anchor="middle">-10</text>
<line x1="59.95" y1="279.3" x2="59.95" y2="282.5" stroke="#8f8f8f" stroke-width="1"/>
<text transform="translate(60.25,292.2) scale(0.97,1)" font-size="8.4" text-anchor="middle">-5</text>
<line x1="96.40" y1="279.3" x2="96.40" y2="282.5" stroke="#8f8f8f" stroke-width="1"/>
<text transform="translate(96.40,292.2) scale(0.97,1)" font-size="8.4" text-anchor="middle">0</text>
<line x1="132.85" y1="279.3" x2="132.85" y2="282.5" stroke="#8f8f8f" stroke-width="1"/>
<text transform="translate(132.85,292.2) scale(0.97,1)" font-size="8.4" text-anchor="middle">5</text>
<line x1="169.30" y1="279.3" x2="169.30" y2="282.5" stroke="#8f8f8f" stroke-width="1"/>
<text transform="translate(169.30,292.2) scale(0.97,1)" font-size="8.4" text-anchor="middle">10</text>
<text x="96.40" y="303.5" font-size="9" text-anchor="middle">Time (fs)</text>
<line x1="193.20" y1="279.3" x2="193.20" y2="282.5" stroke="#8f8f8f" stroke-width="1"/>
<text transform="translate(193.50,292.2) scale(0.97,1)" font-size="8.4" text-anchor="middle">-10</text>
<line x1="229.65" y1="279.3" x2="229.65" y2="282.5" stroke="#8f8f8f" stroke-width="1"/>
<text transform="translate(229.95,292.2) scale(0.97,1)" font-size="8.4" text-anchor="middle">-5</text>
<line x1="266.10" y1="279.3" x2="266.10" y2="282.5" stroke="#8f8f8f" stroke-width="1"/>
<text transform="translate(266.10,292.2) scale(0.97,1)" font-size="8.4" text-anchor="middle">0</text>
<line x1="302.55" y1="279.3" x2="302.55" y2="282.5" stroke="#8f8f8f" stroke-width="1"/>
<text transform="translate(302.55,292.2) scale(0.97,1)" font-size="8.4" text-anchor="middle">5</text>
<line x1="339.00" y1="279.3" x2="339.00" y2="282.5" stroke="#8f8f8f" stroke-width="1"/>
<text transform="translate(339.00,292.2) scale(0.97,1)" font-size="8.4" text-anchor="middle">10</text>
<text x="266.10" y="303.5" font-size="9" text-anchor="middle">Time (fs)</text>
<line x1="362.80" y1="279.3" x2="362.80" y2="282.5" stroke="#8f8f8f" stroke-width="1"/>
<text transform="translate(363.10,292.2) scale(0.97,1)" font-size="8.4" text-anchor="middle">-10</text>
<line x1="399.25" y1="279.3" x2="399.25" y2="282.5" stroke="#8f8f8f" stroke-width="1"/>
<text transform="translate(399.55,292.2) scale(0.97,1)" font-size="8.4" text-anchor="middle">-5</text>
<line x1="435.70" y1="279.3" x2="435.70" y2="282.5" stroke="#8f8f8f" stroke-width="1"/>
<text transform="translate(435.70,292.2) scale(0.97,1)" font-size="8.4" text-anchor="middle">0</text>
<line x1="472.15" y1="279.3" x2="472.15" y2="282.5" stroke="#8f8f8f" stroke-width="1"/>
<text transform="translate(472.15,292.2) scale(0.97,1)" font-size="8.4" text-anchor="middle">5</text>
<line x1="508.60" y1="279.3" x2="508.60" y2="282.5" stroke="#8f8f8f" stroke-width="1"/>
<text transform="translate(508.60,292.2) scale(0.97,1)" font-size="8.4" text-anchor="middle">10</text>
<text x="435.70" y="303.5" font-size="9" text-anchor="middle">Time (fs)</text>
<line x1="532.60" y1="279.3" x2="532.60" y2="282.5" stroke="#8f8f8f" stroke-width="1"/>
<text transform="translate(532.90,292.2) scale(0.97,1)" font-size="8.4" text-anchor="middle">-10</text>
<line x1="569.05" y1="279.3" x2="569.05" y2="282.5" stroke="#8f8f8f" stroke-width="1"/>
<text transform="translate(569.35,292.2) scale(0.97,1)" font-size="8.4" text-anchor="middle">-5</text>
<line x1="605.50" y1="279.3" x2="605.50" y2="282.5" stroke="#8f8f8f" stroke-width="1"/>
<text transform="translate(605.50,292.2) scale(0.97,1)" font-size="8.4" text-anchor="middle">0</text>
<line x1="641.95" y1="279.3" x2="641.95" y2="282.5" stroke="#8f8f8f" stroke-width="1"/>
<text transform="translate(641.95,292.2) scale(0.97,1)" font-size="8.4" text-anchor="middle">5</text>
<line x1="678.40" y1="279.3" x2="678.40" y2="282.5" stroke="#8f8f8f" stroke-width="1"/>
<text transform="translate(678.40,292.2) scale(0.97,1)" font-size="8.4" text-anchor="middle">10</text>
<text x="605.50" y="303.5" font-size="9" text-anchor="middle">Time (fs)</text>
<line x1="19.8" y1="43.1" x2="23.5" y2="43.1" stroke="#8f8f8f" stroke-width="1"/>
<text transform="translate(17.0,46.0) scale(0.97,1)" font-size="8.4" text-anchor="end">1</text>
<line x1="19.8" y1="132.6" x2="23.5" y2="132.6" stroke="#8f8f8f" stroke-width="1"/>
<text transform="translate(17.0,135.5) scale(0.97,1)" font-size="8.4" text-anchor="end">0</text>
<line x1="19.8" y1="185.3" x2="23.5" y2="185.3" stroke="#8f8f8f" stroke-width="1"/>
<text transform="translate(17.0,188.2) scale(0.97,1)" font-size="8.4" text-anchor="end">1</text>
<line x1="19.8" y1="274.6" x2="23.5" y2="274.6" stroke="#8f8f8f" stroke-width="1"/>
<text transform="translate(17.0,277.5) scale(0.97,1)" font-size="8.4" text-anchor="end">0</text>
<text transform="translate(6.9,87.3) rotate(-90)" font-size="9.2" text-anchor="middle">Amplitude (a.u.)</text>
<text transform="translate(6.9,230.35) rotate(-90)" font-size="9.2" text-anchor="middle" textLength="47.8" lengthAdjust="spacingAndGlyphs">Power (a.u.)</text>
<text x="96.40" y="32.4" font-size="9" text-anchor="middle">A</text>
<text x="266.10" y="32.4" font-size="9" text-anchor="middle">B</text>
<text x="435.70" y="32.4" font-size="9" text-anchor="middle">C</text>
<text x="605.50" y="32.4" font-size="9" text-anchor="middle">D</text>
<text x="257" y="6.6" font-size="9" text-anchor="middle">Simulation</text>
<text x="257" y="16.6" font-size="9" text-anchor="middle">4 modes</text>
<line x1="282.9" y1="9" x2="301.3" y2="9" stroke="#111" stroke-width="1.3"/>
<text x="337.2" y="6.6" font-size="9" text-anchor="middle">Simulation</text>
<text x="337.2" y="16.6" font-size="9" text-anchor="middle">fund. mode</text>
<line x1="364.8" y1="9.6" x2="384" y2="9.6" stroke="#111" stroke-width="1.3" stroke-dasharray="5 2.1"/>
<text x="395.6" y="12" font-size="9">Experiment</text>
<line x1="445.8" y1="9.3" x2="464" y2="9.3" stroke="#111" stroke-width="1.2" stroke-dasharray="1.1 1.3"/>
</svg>
</body></html>
